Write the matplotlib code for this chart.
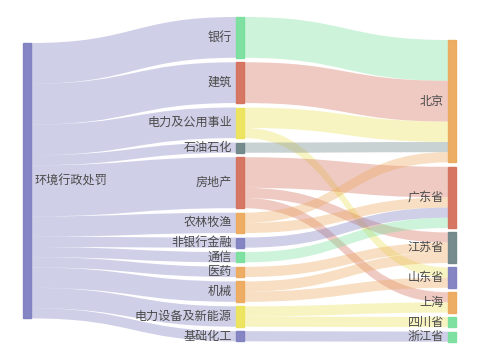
import matplotlib
matplotlib.use('Agg')
import matplotlib.pyplot as plt
from matplotlib.path import Path
from matplotlib.patches import PathPatch, Rectangle

plt.rcParams['font.family'] = ['Noto Sans CJK SC', 'DejaVu Sans']

# data
root = '环境行政处罚'
industries = ['银行', '建筑', '电力及公用事业', '石油石化', '房地产', '农林牧渔',
              '非银行金融', '通信', '医药', '机械', '电力设备及新能源', '基础化工']
industry_counts = [4, 4, 3, 1, 5, 2, 1, 1, 1, 2, 2, 1]
regions = ['北京', '广东省', '江苏省', '山东省', '上海', '四川省', '浙江省']

link_src = ['银行', '建筑', '电力及公用事业', '电力及公用事业', '石油石化',
            '房地产', '房地产', '房地产', '农林牧渔', '农林牧渔', '非银行金融',
            '通信', '医药', '机械', '机械', '电力设备及新能源', '电力设备及新能源',
            '基础化工']
link_tgt = ['北京', '北京', '北京', '山东省', '北京',
            '广东省', '江苏省', '上海', '北京', '广东省', '广东省',
            '广东省', '江苏省', '江苏省', '山东省', '上海', '四川省',
            '浙江省']
link_val = [4, 4, 2, 1, 1, 3, 1, 1, 1, 1, 1, 1, 1, 1, 1, 1, 1, 1]

# colours
purple = '#7f80c0'
green = '#78e09c'
red = '#d4705c'
yellow = '#ece35a'
teal = '#6f8588'
orange = '#eda95c'
ind_colors = [green, red, yellow, teal, red, orange, purple, green, orange,
              orange, yellow, purple]
reg_colors = [orange, red, teal, purple, orange, green, green]

# layout
unit = 10.2
node_w = 8
cols = {'left': 23, 'mid': 236, 'right': 448}

fig = plt.figure(figsize=(4.8, 3.6), dpi=100)
ax = fig.add_axes([0, 0, 1, 1])
ax.set_xlim(0, 480)
ax.set_ylim(360, 0)
ax.axis('off')

nodes = {}
total = sum(industry_counts)
nodes[root] = dict(x=cols['left'], y=43, h=total * unit, color=purple)

y = 17
for name, v, c in zip(industries, industry_counts, ind_colors):
    nodes[name] = dict(x=cols['mid'], y=y, h=v * unit, color=c)
    y += v * unit + 4.45

reg_totals = [sum(v for t, v in zip(link_tgt, link_val) if t == r) for r in regions]
y = 40
for name, v, c in zip(regions, reg_totals, reg_colors):
    nodes[name] = dict(x=cols['right'], y=y, h=v * unit, color=c)
    y += v * unit + 4.4


def band(x0, y0, x1, y1, h, color):
    xm = (x0 + x1) / 2
    verts = [(x0, y0), (xm, y0), (xm, y1), (x1, y1),
             (x1, y1 + h), (xm, y1 + h), (xm, y0 + h), (x0, y0 + h), (x0, y0)]
    codes = [Path.MOVETO, Path.CURVE4, Path.CURVE4, Path.CURVE4,
             Path.LINETO, Path.CURVE4, Path.CURVE4, Path.CURVE4, Path.CLOSEPOLY]
    ax.add_patch(PathPatch(Path(verts, codes), facecolor=color, edgecolor='none',
                           alpha=0.37, zorder=1))


# root -> industries
off = nodes[root]['y']
for name, v in zip(industries, industry_counts):
    n = nodes[name]
    band(nodes[root]['x'] + node_w, off, n['x'], n['y'], v * unit, purple)
    off += v * unit

# industries -> regions
# outgoing links stacked by target order, incoming by source order
links = list(zip(link_src, link_tgt, link_val))
out_off = {n: nodes[n]['y'] for n in industries}
in_off = {n: nodes[n]['y'] for n in regions}
out_pos = {}
for s, t, v in sorted(links, key=lambda l: (industries.index(l[0]), regions.index(l[1]))):
    out_pos[(s, t)] = out_off[s]
    out_off[s] += v * unit
in_pos = {}
for s, t, v in sorted(links, key=lambda l: (regions.index(l[1]), industries.index(l[0]))):
    in_pos[(s, t)] = in_off[t]
    in_off[t] += v * unit
for s, t, v in links:
    band(nodes[s]['x'] + node_w, out_pos[(s, t)], nodes[t]['x'], in_pos[(s, t)],
         v * unit, nodes[s]['color'])

# nodes and labels
for name, n in nodes.items():
    ax.add_patch(Rectangle((n['x'], n['y']), node_w, n['h'], facecolor=n['color'],
                           edgecolor=n['color'], lw=1, alpha=0.95, zorder=3))
    if name == root:
        ax.text(n['x'] + node_w + 4, n['y'] + n['h'] / 2, name, ha='left',
                va='center', fontsize=8.7, color='#4a4a4a', zorder=4)
    else:
        ax.text(n['x'] - 4, n['y'] + n['h'] / 2, name, ha='right',
                va='center', fontsize=8.7, color='#4a4a4a', zorder=4)

fig.savefig('out.png', dpi=100)
